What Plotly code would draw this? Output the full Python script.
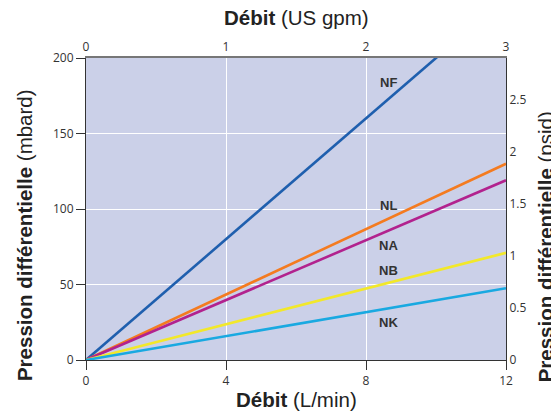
import plotly.graph_objects as go

flow_lpm = [0, 12]
series_names = ["NF", "NL", "NA", "NB", "NK"]
series_values = {
    "NF": [0, 240],
    "NL": [0, 130],
    "NA": [0, 119],
    "NB": [0, 71],
    "NK": [0, 47.5],
}
series_colors = {
    "NF": "#1f5fae",
    "NL": "#f47b20",
    "NA": "#b2228e",
    "NB": "#f2e82a",
    "NK": "#19a9e1",
}
label_x = 8.63
label_y = {"NF": 184, "NL": 102.5, "NA": 76, "NB": 59, "NK": 25}

x_ticks = [0, 4, 8, 12]
y_ticks = [0, 50, 100, 150, 200]
gpm_ticks = [0, 1, 2, 3]
psi_ticks = [0, 0.5, 1, 1.5, 2, 2.5]
psi_labels = ["0", "0.5", "1", "1.5", "2", "2.5"]

TICKFONT = dict(family="Open Sans", size=12, color="#333333")
TITLEFONT = dict(family="Liberation Sans", size=20.5, color="#222222")

fig = go.Figure()
for n in series_names:
    fig.add_trace(go.Scatter(x=flow_lpm, y=series_values[n], mode="lines",
                             line=dict(color=series_colors[n], width=2.6),
                             showlegend=False, hoverinfo="skip"))
    fig.add_annotation(x=label_x, y=label_y[n], text="<b>" + n + "</b>",
                       showarrow=False, xref="x", yref="y",
                       font=dict(family="Liberation Sans", size=13, color="#333333"))

# dummy traces for secondary axes
fig.add_trace(go.Scatter(x=[0, 3], y=[None, None], xaxis="x2", yaxis="y", showlegend=False, hoverinfo="skip"))
fig.add_trace(go.Scatter(x=[0, 12], y=[None, None], xaxis="x", yaxis="y2", showlegend=False, hoverinfo="skip"))

# axis titles as annotations for precise placement
fig.add_annotation(x=0.5, y=1.1325, xref="paper", yref="paper", showarrow=False,
                   text="<b>Débit</b> (US gpm)", font=TITLEFONT, xanchor="center", yanchor="middle")
fig.add_annotation(x=0.5, y=-0.132, xref="paper", yref="paper", showarrow=False,
                   text="<b>Débit</b> (L/min)", font=TITLEFONT, xanchor="center", yanchor="middle")
fig.add_annotation(x=-0.145, y=0.414, xref="paper", yref="paper", showarrow=False, textangle=-90,
                   text="<b>Pression différentielle</b> (mbard)", font=TITLEFONT,
                   xanchor="center", yanchor="middle")
fig.add_annotation(x=1.095, y=0.376, xref="paper", yref="paper", showarrow=False, textangle=-90,
                   text="<b>Pression différentielle</b> (psid)", font=TITLEFONT,
                   xanchor="center", yanchor="middle")

fig.update_layout(
    width=551, height=409,
    margin=dict(l=78, r=53, t=50, b=57),
    paper_bgcolor="white",
    plot_bgcolor="#cbd0e8",
    xaxis=dict(range=[0, 12], tickvals=x_ticks, ticks="outside", ticklen=9, tickcolor="#333",
               showline=True, linecolor="#333", linewidth=1.2, automargin=False,
               showgrid=True, gridcolor="white", gridwidth=1.2, zeroline=False,
               tickfont=TICKFONT),
    xaxis2=dict(range=[0, 3], tickvals=gpm_ticks, overlaying="x", side="top",
                showline=True, linecolor="#777", linewidth=1.6, ticks="", automargin=False,
                showgrid=False, zeroline=False, tickfont=TICKFONT),
    yaxis=dict(range=[0, 200], tickvals=y_ticks, ticks="outside", ticklen=9, tickcolor="#333",
               showline=True, linecolor="#333", linewidth=1.2, automargin=False,
               showgrid=True, gridcolor="white", gridwidth=1.2, zeroline=False,
               tickfont=TICKFONT),
    yaxis2=dict(range=[0, 200 / 68.9476], tickvals=psi_ticks, ticktext=psi_labels,
                overlaying="y", side="right", ticks="", automargin=False,
                showline=True, linecolor="#333", linewidth=1.2,
                showgrid=False, zeroline=False, tickfont=TICKFONT),
)

fig.write_html("out.html")
